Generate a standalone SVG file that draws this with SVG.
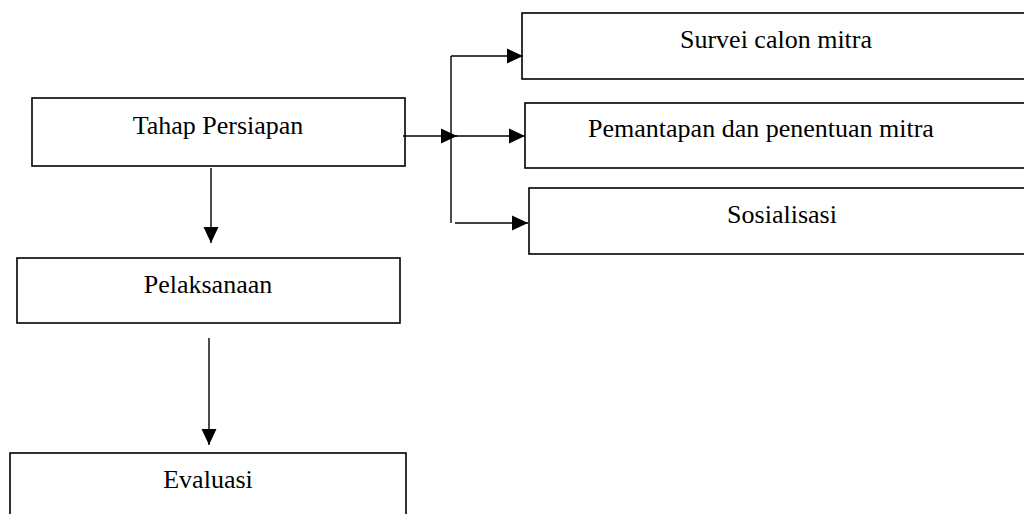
<svg xmlns="http://www.w3.org/2000/svg" width="1024" height="514" viewBox="0 0 1024 514">
<style>
.box{fill:#fff;stroke:#000;stroke-width:1.6}
.lbl{font-family:"Liberation Serif","Times New Roman",serif;font-size:26px;fill:#000;text-anchor:middle}
.ln{fill:none;stroke:#000;stroke-width:1.4}
</style>
<defs>
<marker id="ah" markerUnits="userSpaceOnUse" markerWidth="16" markerHeight="16" viewBox="0 0 15 14" refX="15" refY="7" orient="auto">
<path d="M0,0 L15,7 L0,14 Z" fill="#000"/>
</marker>
</defs>
<rect width="1024" height="514" fill="#fff"/>
<g id="tahap"><rect class="box" x="32" y="98" width="373" height="68"/><text class="lbl" x="218" y="134">Tahap Persiapan</text></g>
<g id="pelaksanaan"><rect class="box" x="17" y="258" width="383" height="65"/><text class="lbl" x="208" y="293">Pelaksanaan</text></g>
<g id="evaluasi"><rect class="box" x="10" y="453" width="396" height="80"/><text class="lbl" x="208" y="488">Evaluasi</text></g>
<g id="survei"><rect class="box" x="522" y="13" width="520" height="66"/><text class="lbl" x="776" y="48">Survei calon mitra</text></g>
<g id="pemantapan"><rect class="box" x="525" y="103" width="520" height="65"/><text class="lbl" x="761" y="137">Pemantapan dan penentuan mitra</text></g>
<g id="sosialisasi"><rect class="box" x="529" y="188" width="520" height="66"/><text class="lbl" x="782" y="223">Sosialisasi</text></g>
<g id="connectors">
<path class="ln" d="M211,168 L211,243" marker-end="url(#ah)"/>
<path class="ln" d="M209,338 L209,445" marker-end="url(#ah)"/>
<path class="ln" d="M403,136 L457,136" marker-end="url(#ah)"/>
<path class="ln" d="M451,136 L525,136" marker-end="url(#ah)"/>
<path class="ln" d="M451,56 L451,223"/>
<path class="ln" d="M451,56 L523,56" marker-end="url(#ah)"/>
<path class="ln" d="M455,223 L528,223" marker-end="url(#ah)"/>
</g>
</svg>
